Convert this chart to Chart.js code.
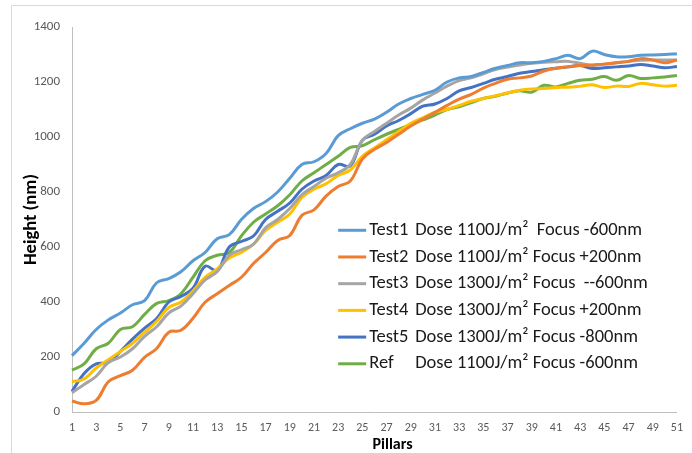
<!DOCTYPE html>
<html>
<head>
<meta charset="utf-8">
<script src="https://cdn.jsdelivr.net/npm/chart.js@4.4.0/dist/chart.umd.min.js"></script>
<style>
  html, body { margin: 0; padding: 0; background: #fff; }
  #wrap { position: relative; width: 692px; height: 453px; }
</style>
</head>
<body>
<div id="wrap"><canvas id="pillars-chart" width="692" height="453"></canvas></div>
<script>
// pillar numbers along the x axis
const pillars = [];
for (let i = 1; i <= 51; i++) pillars.push(i);

const yTicks = [0, 200, 400, 600, 800, 1000, 1200, 1400];

// measured heights (nm) per pillar
const test1 = [205, 250, 300, 335, 360, 390, 405, 470, 485, 510, 550, 580, 630, 645, 700,
  740, 765, 800, 850, 900, 910, 940, 1005, 1030, 1050, 1065, 1090, 1120, 1140, 1155,
  1170, 1200, 1215, 1220, 1235, 1250, 1260, 1270, 1270, 1275, 1285, 1297, 1285, 1312, 1300,
  1292, 1292, 1297, 1298, 1300, 1303];
const test2 = [40, 30, 42, 110, 132, 152, 199, 231, 290, 297, 341, 399, 430, 460, 490,
  540, 580, 624, 642, 715, 735, 785, 820, 840, 920, 955, 980, 1010, 1040, 1065,
  1090, 1115, 1138, 1155, 1178, 1195, 1210, 1215, 1222, 1240, 1250, 1255, 1260, 1262, 1265,
  1270, 1275, 1285, 1280, 1270, 1280];
const test3 = [70, 100, 130, 180, 200, 230, 275, 310, 360, 385, 430, 480, 510, 570, 590,
  610, 670, 700, 740, 790, 820, 850, 870, 900, 988, 1020, 1050, 1080, 1105, 1135,
  1160, 1185, 1205, 1215, 1230, 1245, 1254, 1262, 1268, 1272, 1274, 1275, 1268, 1260, 1265,
  1270, 1275, 1279, 1280, 1280, 1280];
const test4 = [110, 120, 160, 190, 220, 250, 290, 330, 380, 400, 440, 490, 520, 560, 580,
  610, 660, 690, 720, 780, 810, 830, 860, 880, 930, 960, 990, 1020, 1050, 1070,
  1090, 1100, 1115, 1130, 1140, 1150, 1160, 1170, 1175, 1176, 1180, 1181, 1185, 1190, 1180,
  1185, 1184, 1195, 1190, 1185, 1188];
const test5 = [75, 140, 175, 180, 220, 265, 305, 340, 400, 420, 450, 530, 515, 600, 620,
  640, 700, 730, 760, 810, 840, 860, 900, 895, 988, 1010, 1040, 1060, 1085, 1112,
  1120, 1140, 1168, 1180, 1195, 1210, 1220, 1232, 1238, 1245, 1250, 1255, 1260, 1249, 1252,
  1255, 1258, 1264, 1258, 1252, 1256];
const ref = [152, 175, 230, 250, 300, 310, 355, 395, 405, 430, 490, 550, 570, 580, 640,
  690, 720, 750, 790, 840, 870, 900, 930, 962, 968, 990, 1010, 1028, 1045, 1062,
  1080, 1100, 1110, 1125, 1140, 1148, 1160, 1168, 1163, 1188, 1182, 1195, 1206, 1210, 1220,
  1206, 1224, 1213, 1215, 1218, 1224];

const seriesNames = ['Test1', 'Test2', 'Test3', 'Test4', 'Test5', 'Ref'];
const seriesConditions = [
  'Dose 1100J/m\u00b2  Focus -600nm',
  'Dose 1100J/m\u00b2 Focus +200nm',
  'Dose 1300J/m\u00b2 Focus  --600nm',
  'Dose 1300J/m\u00b2 Focus +200nm',
  'Dose 1300J/m\u00b2 Focus -800nm',
  'Dose 1100J/m\u00b2 Focus -600nm'
];
const seriesColors = ['#5b9bd5', '#ed7d31', '#a5a5a5', '#ffc000', '#4472c4', '#70ad47'];
const seriesValues = [test1, test2, test3, test4, test5, ref];

const FONT = 'Carlito, "Noto Sans", sans-serif';

// outer frame of the chart (light grey edges) and the x axis title
const framePlugin = {
  id: 'frame',
  beforeDraw(chart) {
    const ctx = chart.ctx;
    const area = chart.chartArea;
    ctx.save();
    ctx.strokeStyle = '#d9d9d9';
    ctx.lineWidth = 1;
    ctx.beginPath();
    ctx.moveTo(11.5, 453);
    ctx.lineTo(11.5, 5.5);
    ctx.lineTo(692, 5.5);
    ctx.stroke();
    ctx.font = 'bold 16px ' + FONT;
    ctx.fillStyle = '#000';
    ctx.textAlign = 'center';
    ctx.textBaseline = 'middle';
    ctx.fillText('Pillars', area.left + (area.right - area.left) * 0.53, area.bottom + 33);
    ctx.restore();
  }
};

// legend sitting inside the plot, lower right
const insideLegend = {
  id: 'insideLegend',
  afterDatasetsDraw(chart) {
    const ctx = chart.ctx;
    const area = chart.chartArea;
    const lineX = area.left + (area.right - area.left) * 0.44;
    const nameX = lineX + 31;
    const condX = lineX + 77;
    let y = area.top + (area.bottom - area.top) * 0.528;
    ctx.save();
    ctx.font = '18.5px ' + FONT;
    ctx.textBaseline = 'middle';
    chart.data.datasets.forEach((ds, i) => {
      ctx.strokeStyle = ds.borderColor;
      ctx.lineWidth = 3;
      ctx.beginPath();
      ctx.moveTo(lineX, y);
      ctx.lineTo(lineX + 28, y);
      ctx.stroke();
      ctx.fillStyle = '#1a1a1a';
      ctx.fillText(seriesNames[i], nameX, y);
      ctx.fillText(seriesConditions[i], condX, y);
      y += 26.7;
    });
    ctx.restore();
  }
};

new Chart(document.getElementById('pillars-chart'), {
  type: 'line',
  data: {
    labels: pillars,
    datasets: seriesValues.map((vals, i) => ({
      label: seriesNames[i] + ' ' + seriesConditions[i],
      data: vals,
      borderColor: seriesColors[i],
      backgroundColor: seriesColors[i],
      borderWidth: 3,
      pointRadius: 0,
      tension: 0.4,
      fill: false
    }))
  },
  options: {
    responsive: false,
    animation: false,
    layout: { padding: { left: 0, top: 27, right: 15, bottom: 0 } },
    plugins: {
      legend: { display: false },
      tooltip: { enabled: false }
    },
    scales: {
      x: {
        offset: false,
        grid: { display: false, drawTicks: false },
        border: { display: true, color: '#bfbfbf', width: 1 },
        ticks: {
          autoSkip: false,
          maxRotation: 0,
          padding: 9,
          color: '#595959',
          font: { family: FONT, size: 12 },
          callback: (v, idx) => (idx % 2 === 0 ? pillars[idx] : '')
        },
        afterFit(scale) { scale.height = 41; }
      },
      y: {
        min: yTicks[0],
        max: yTicks[yTicks.length - 1],
        grid: { display: false, drawTicks: false },
        border: { display: true, color: '#bfbfbf', width: 1 },
        afterBuildTicks(scale) { scale.ticks = yTicks.map(v => ({ value: v })); },
        ticks: {
          padding: 12,
          color: '#595959',
          font: { family: FONT, size: 13 },
          callback: v => String(v)
        },
        title: {
          display: true,
          text: 'Height (nm)',
          color: '#000',
          font: { family: FONT, size: 18.5, weight: 'bold' },
          padding: { top: 20, bottom: 0 }
        },
        afterFit(scale) { scale.width = 72; }
      }
    }
  },
  plugins: [framePlugin, insideLegend]
});
</script>
</body>
</html>
